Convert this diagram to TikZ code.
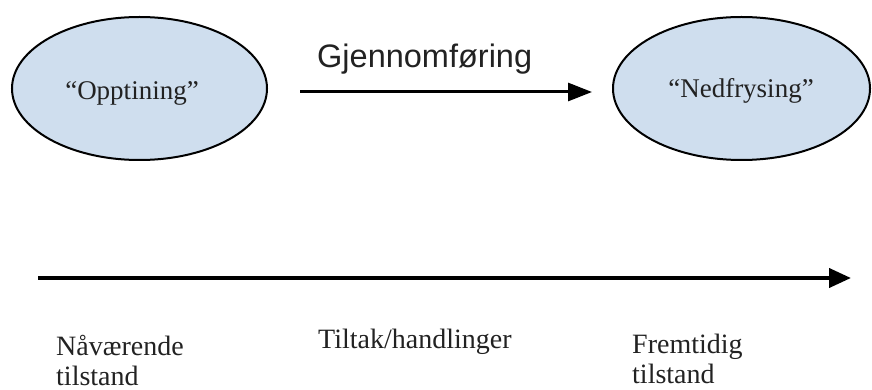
\documentclass[tikz,border=0pt]{standalone}
\usepackage{fontspec}
\setmainfont{Liberation Serif}
\newfontfamily\arialfont{Liberation Sans}
\usetikzlibrary{shapes.geometric,arrows.meta}
\definecolor{ellfill}{RGB}{207,222,238}
\definecolor{txt}{RGB}{34,34,34}
\tikzset{
  ellbox/.style={ellipse, draw=black, line width=2pt, fill=ellfill, inner sep=0pt},
  serlabel/.style={text=txt, font=\fontsize{27}{30}\selectfont, inner sep=0pt},
  botlabel/.style={text=txt, font=\fontsize{28}{30}\selectfont, inner sep=0pt, align=left, anchor=base west},
  toparrow/.style={line width=3pt, -{Triangle[length=24pt,width=18pt]}},
  botarrow/.style={line width=4pt, -{Triangle[length=22pt,width=19pt]}}
}
\begin{document}
\begin{tikzpicture}[x=1pt,y=1pt]
\useasboundingbox (0,0) rectangle (872,-390);
% ellipses
\node[ellbox, minimum width=255pt, minimum height=143pt] (left) at (139.5,-88.5) {};
\node[ellbox, minimum width=257pt, minimum height=143pt] (right) at (741.5,-88.5) {};
\node[serlabel, anchor=base] (ltext) at (132,-100) {“Opptining”};
\node[serlabel, anchor=base] (rtext) at (741,-98) {“Nedfrysing”};
% top arrow
\coordinate (ta) at (300,-92);
\coordinate (tb) at (592,-92);
\draw[toparrow] (ta) -- (tb);
\node[anchor=base west, inner sep=0pt, text=txt, font=\arialfont\fontsize{32.5}{36}\selectfont] (gj) at (317,-68) {Gjennomføring};
% bottom arrow
\coordinate (ba) at (38,-278);
\coordinate (bb) at (851,-278);
\draw[botarrow] (ba) -- (bb);
% bottom labels (base anchor = baseline of last line)
\node[botlabel] (now) at (56,-385) {Nåværende\\tilstand};
\node[botlabel] (act) at (318,-348) {Tiltak/handlinger};
\node[botlabel] (fut) at (632,-383) {Fremtidig\\tilstand};
\end{tikzpicture}
\end{document}
